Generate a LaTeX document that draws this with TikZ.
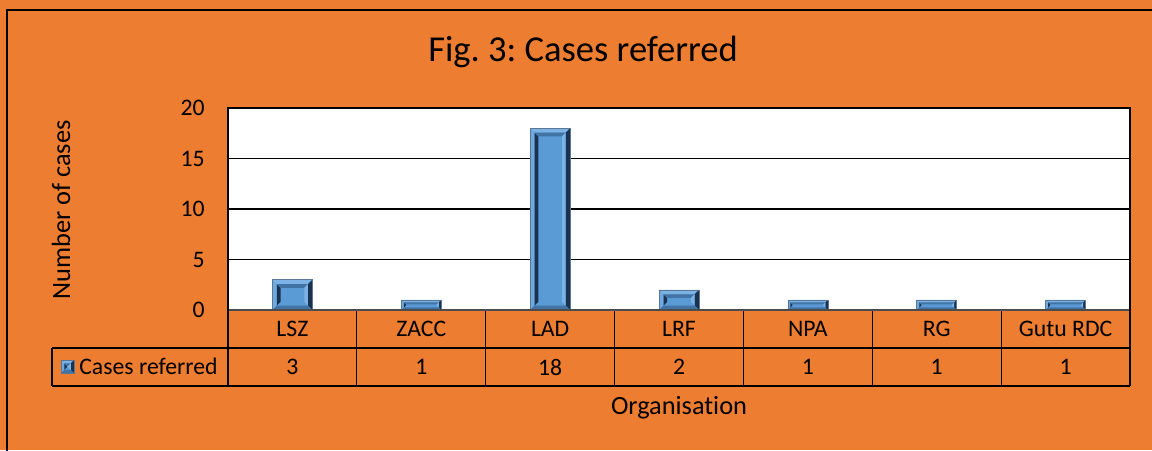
\documentclass[tikz,border=0pt]{standalone}
\usepackage{fontspec}
\setmainfont[Ligatures=NoCommon]{Carlito}
\usepackage{xcolor}
\definecolor{naranja}{RGB}{237,125,49}
\definecolor{azul}{RGB}{91,155,213}
\definecolor{azulclaro}{RGB}{125,178,228}
\definecolor{azuloscuro}{RGB}{25,50,80}
\definecolor{azulmedio}{RGB}{65,115,165}
\usepackage{tikz}
\usetikzlibrary{positioning}
\frenchspacing

% barra con bisel: x izquierda, x derecha, y arriba, y abajo
\newcommand{\barrabisel}[4]{%
  \pgfmathsetmacro{\bis}{min(4.5,((#4)-(#3))/4)}
  \fill[azul] (#1,#3) rectangle (#2,#4);
  \fill[azulclaro] (#1,#3) -- (#2,#3) -- (#2-\bis,#3+\bis) -- (#1+\bis,#3+\bis) -- cycle;
  \fill[azulclaro!60!azul] (#1,#3) -- (#1+\bis,#3+\bis) -- (#1+\bis,#4-\bis) -- (#1,#4) -- cycle;
  \fill[azuloscuro] (#2,#3) -- (#2,#4) -- (#2-\bis,#4-\bis) -- (#2-\bis,#3+\bis) -- cycle;
  \fill[azulmedio] (#1,#4) -- (#2,#4) -- (#2-\bis,#4-\bis) -- (#1+\bis,#4-\bis) -- cycle;
  \fill[azuloscuro] (#1+\bis,#3+\bis) -- (#1+1.8*\bis,#3+1.8*\bis) -- (#1+1.8*\bis,#4-1.8*\bis) -- (#1+\bis,#4-\bis) -- cycle;
  \fill[azulmedio] (#1+\bis,#3+\bis) -- (#2-\bis,#3+\bis) -- (#2-1.8*\bis,#3+1.8*\bis) -- (#1+1.8*\bis,#3+1.8*\bis) -- cycle;
  \fill[azulclaro] (#2-\bis,#3+\bis) -- (#2-1.8*\bis,#3+1.8*\bis) -- (#2-1.8*\bis,#4-1.8*\bis) -- (#2-\bis,#4-\bis) -- cycle;
  \draw[azulmedio!60!gray, line width=0.3pt] (#1,#3) rectangle (#2,#4);
}

\begin{document}
\begin{tikzpicture}[x=0.02cm, y=-0.02cm,
    titulo/.style={font=\fontsize{20.8}{23}\selectfont},
    ejetit/.style={font=\fontsize{15}{17}\selectfont},
    marca/.style={font=\fontsize{13.5}{15}\selectfont, anchor=east, inner sep=0pt},
    celda/.style={font=\fontsize{13.5}{15}\selectfont, inner sep=0pt},
    linea/.style={black, line width=0.6pt}]
    \useasboundingbox (0,0) rectangle (1152,450);
    % Fondo naranja y marco
    \fill[naranja] (0,0) rectangle (1152,450);
    \draw[black, line width=1.3pt] (7,460) |- (1160,10);
    % Area del grafico
    \fill[white] (228,108) rectangle (1130,310);
    \foreach \v in {5,10,15} {
        \draw[linea] (228,310-\v*10.1) -- (1130,310-\v*10.1);
    }
    \foreach \v in {0,5,10,15,20} {
        \node[marca] (y\v) at (205,310-\v*10.1) {\v};
    }
    % Tabla de datos
    \draw[linea] (52,348) -- (1130,348);
    \draw[linea] (52,386) -- (1130,386);
    \draw[linea] (52,348) -- (52,386);
    \foreach \k in {1,...,6} {
        \draw[linea] (228+\k*128.86,310) -- (228+\k*128.86,386);
    }
    % Barras y etiquetas
    \foreach \nombre/\val [count=\k from 0] in {LSZ/3, ZACC/1, LAD/18, LRF/2, NPA/1, RG/1, Gutu RDC/1} {
        \pgfmathsetmacro{\xc}{228+(\k+0.5)*128.86}
        \barrabisel{\xc-20}{\xc+20}{310-\val*10.1}{310}
        \node[celda] (cat\k) at (\xc,329) {\nombre};
        \node[celda] (val\k) at (\xc,367) {\val};
    }
    \draw[black!70, line width=1.3pt] (228,310) -- (1130,310);
    \draw[black, line width=1.3pt] (228,310) |- (1130,108) -- (1130,386);
    \draw[linea] (228,310) -- (228,386);
    % Leyenda
    \barrabisel{61}{74}{360}{373}
    \node[celda, anchor=west] (leyenda) at (79,366) {Cases referred};
    % Titulos
    \node[titulo] (tit) at (583,52) {Fig. 3: Cases referred};
    \node[ejetit, rotate=90] (ejey) at (61,210) {Number of cases};
    \node[ejetit] (ejex) at (679,408) {Organisation};
\end{tikzpicture}
\end{document}
